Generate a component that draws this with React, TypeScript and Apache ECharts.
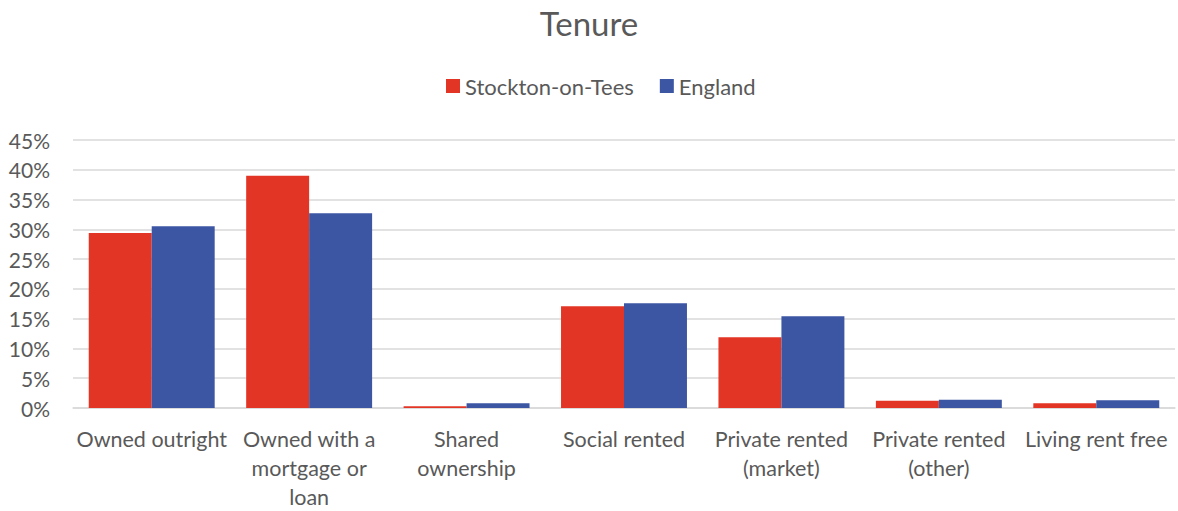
import React, { useEffect, useRef } from "react";
import * as echarts from "echarts";

const categories = [
  "Owned outright",
  "Owned with a\nmortgage or\nloan",
  "Shared\nownership",
  "Social rented",
  "Private rented\n(market)",
  "Private rented\n(other)",
  "Living rent free",
];
const stockton = [29.4, 39.0, 0.3, 17.1, 11.9, 1.2, 0.8];
const england = [30.5, 32.7, 0.8, 17.6, 15.4, 1.4, 1.3];

const FONT = "Lato, 'Open Sans', sans-serif";
const TEXT = "#595959";

export default function App() {
  const ref = useRef<HTMLDivElement>(null);
  useEffect(() => {
    const chart = echarts.init(ref.current!, null, { renderer: "svg" });
    chart.setOption({
      animation: false,
      title: {
        text: "Tenure",
        left: "center",
        top: 1,
        textStyle: { fontFamily: FONT, fontSize: 33, fontWeight: "normal", color: TEXT },
      },
      legend: {
        top: 70,
        left: 441,
        itemWidth: 14,
        itemHeight: 14,
        itemGap: 26,
        icon: "rect",
        textStyle: { fontFamily: FONT, fontSize: 22, color: TEXT },
        data: ["Stockton-on-Tees", "England"],
      },
      grid: { left: 73, right: 3, top: 140, bottom: 102, containLabel: false },
      xAxis: {
        type: "category",
        data: categories,
        axisLine: { lineStyle: { color: "#d9d9d9", width: 1.5 } },
        axisTick: { show: false },
        axisLabel: {
          interval: 0,
          fontFamily: FONT,
          fontSize: 21.5,
          color: TEXT,
          lineHeight: 29,
          margin: 16,
        },
      },
      yAxis: {
        type: "value",
        min: 0,
        max: 45,
        interval: 5,
        axisLine: { show: false },
        axisTick: { show: false },
        splitLine: { lineStyle: { color: "#d9d9d9", width: 1.5 } },
        axisLabel: {
          formatter: "{value}%",
          fontFamily: FONT,
          fontSize: 21,
          color: TEXT,
          margin: 23,
        },
      },
      series: [
        {
          name: "Stockton-on-Tees",
          type: "bar",
          data: stockton,
          barGap: "0%",
          barCategoryGap: "20%",
          itemStyle: { color: "#E33525" },
        },
        {
          name: "England",
          type: "bar",
          data: england,
          itemStyle: { color: "#3C56A4" },
        },
      ],
    });
    return () => chart.dispose();
  }, []);
  return <div ref={ref} style={{ width: 1178, height: 511, position: "absolute", left: 0, top: 0 }} />;
}
